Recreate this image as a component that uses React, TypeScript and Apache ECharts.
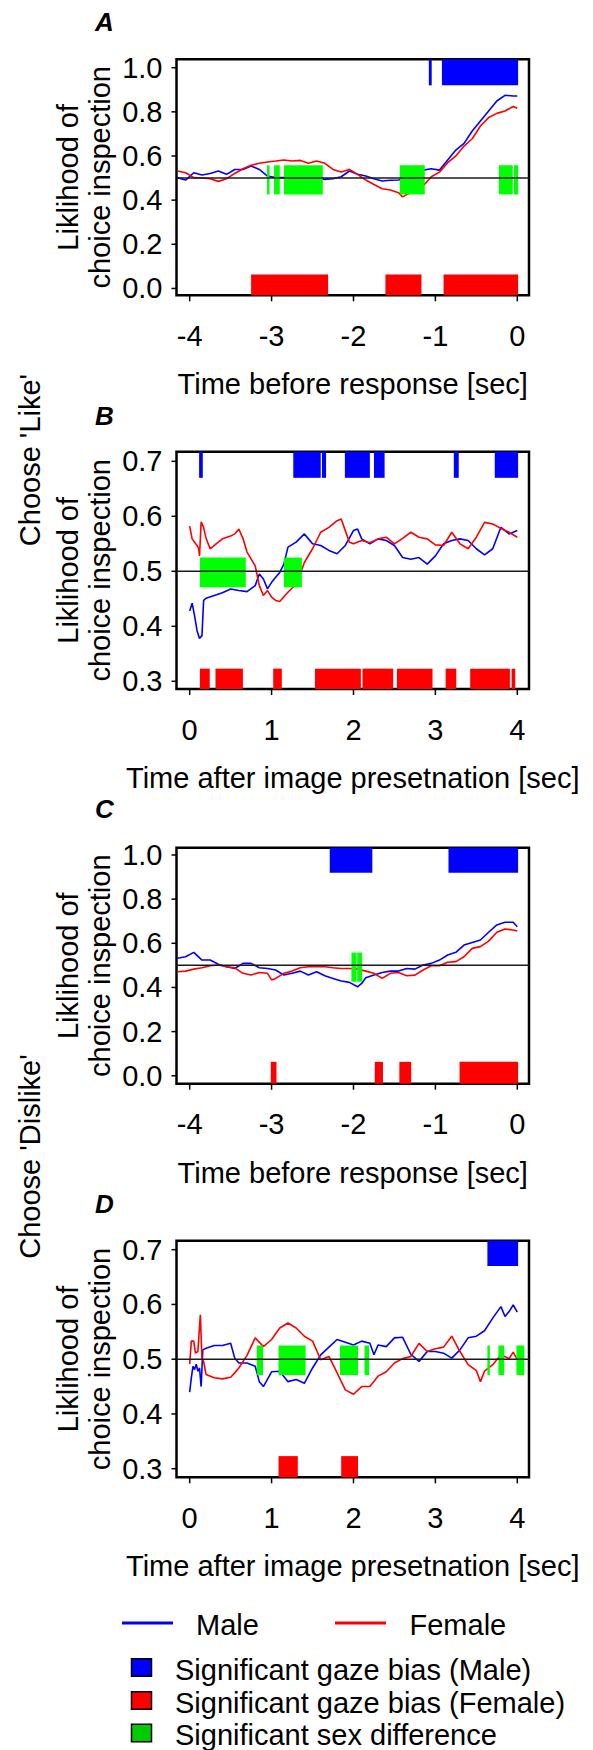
import React, { useEffect, useRef } from "react";
import * as echarts from "echarts";

const FONT = "'Liberation Sans', Arial, Helvetica, sans-serif";

// ---------- tick labels ----------
const X_TICKS_BEFORE = [-4, -3, -2, -1, 0];
const X_TICKS_AFTER = [0, 1, 2, 3, 4];
const Y_TICKS_FULL = [0, 0.2, 0.4, 0.6, 0.8, 1.0];
const Y_TICKS_ZOOM = [0.3, 0.4, 0.5, 0.6, 0.7];
const REF_LEVEL = 0.5;

// ---------- Panel A: Choose 'Like', time before response ----------
const aMale = [[-4.15,0.502],[-4.05,0.491],[-3.95,0.524],[-3.85,0.514],[-3.75,0.521],[-3.65,0.532],[-3.55,0.517],[-3.45,0.539],[-3.35,0.539],[-3.25,0.555],[-3.15,0.539],[-3.05,0.509],[-2.95,0.502],[-2.85,0.502],[-2.75,0.503],[-2.65,0.502],[-2.55,0.497],[-2.45,0.5],[-2.35,0.494],[-2.25,0.497],[-2.15,0.506],[-2.05,0.532],[-1.95,0.517],[-1.85,0.509],[-1.75,0.497],[-1.65,0.487],[-1.55,0.49],[-1.45,0.491],[-1.35,0.5],[-1.25,0.517],[-1.15,0.536],[-1.05,0.542],[-0.95,0.536],[-0.85,0.582],[-0.75,0.627],[-0.65,0.657],[-0.55,0.713],[-0.45,0.759],[-0.35,0.804],[-0.25,0.849],[-0.15,0.875],[-0.05,0.872],[0,0.872]];
const aFemale = [[-4.15,0.532],[-4.05,0.524],[-3.95,0.502],[-3.85,0.5],[-3.75,0.497],[-3.65,0.485],[-3.55,0.497],[-3.45,0.521],[-3.35,0.542],[-3.25,0.558],[-3.15,0.567],[-3.05,0.573],[-2.95,0.577],[-2.85,0.582],[-2.75,0.577],[-2.65,0.58],[-2.55,0.567],[-2.45,0.577],[-2.35,0.567],[-2.25,0.539],[-2.15,0.527],[-2.05,0.539],[-1.95,0.517],[-1.85,0.491],[-1.75,0.471],[-1.65,0.452],[-1.55,0.446],[-1.45,0.434],[-1.4,0.415],[-1.35,0.425],[-1.25,0.441],[-1.15,0.464],[-1.05,0.506],[-0.95,0.527],[-0.85,0.57],[-0.75,0.6],[-0.65,0.645],[-0.55,0.678],[-0.45,0.736],[-0.35,0.774],[-0.25,0.793],[-0.15,0.804],[-0.05,0.824],[0,0.816]];
const aMaleSig = [[-1.08,-1.045],[-0.92,0.01]];
const aFemaleSig = [[-3.25,-2.31],[-1.61,-1.17],[-0.9,0.01]];
const aDiffSig = [[-3.055,-3.025],[-2.97,-2.9],[-2.85,-2.375],[-1.435,-1.13],[-0.225,-0.055],[-0.04,0.01]];

// ---------- Panel B: Choose 'Like', time after image presentation ----------
const bMale = [[0,0.428],[0.03,0.442],[0.06,0.419],[0.09,0.392],[0.12,0.378],[0.15,0.383],[0.17,0.447],[0.2,0.451],[0.3,0.456],[0.4,0.461],[0.5,0.468],[0.6,0.465],[0.7,0.463],[0.8,0.474],[0.85,0.495],[0.9,0.486],[0.95,0.468],[1.0,0.48],[1.05,0.489],[1.1,0.498],[1.15,0.513],[1.2,0.544],[1.3,0.553],[1.4,0.568],[1.45,0.559],[1.5,0.55],[1.6,0.547],[1.7,0.538],[1.8,0.532],[1.9,0.547],[2.0,0.574],[2.05,0.577],[2.1,0.559],[2.2,0.55],[2.3,0.559],[2.4,0.556],[2.5,0.547],[2.6,0.525],[2.7,0.522],[2.8,0.525],[2.9,0.513],[3.0,0.528],[3.1,0.55],[3.2,0.556],[3.3,0.559],[3.4,0.556],[3.5,0.541],[3.6,0.53],[3.7,0.541],[3.8,0.58],[3.9,0.568],[4.0,0.574]];
const bFemale = [[0,0.582],[0.03,0.559],[0.06,0.553],[0.09,0.547],[0.11,0.541],[0.12,0.528],[0.14,0.59],[0.17,0.58],[0.2,0.56],[0.25,0.541],[0.3,0.547],[0.4,0.559],[0.5,0.564],[0.55,0.568],[0.6,0.577],[0.65,0.56],[0.7,0.535],[0.8,0.51],[0.85,0.474],[0.9,0.456],[0.95,0.465],[1.0,0.453],[1.05,0.447],[1.1,0.445],[1.2,0.462],[1.3,0.477],[1.35,0.495],[1.4,0.516],[1.5,0.541],[1.6,0.571],[1.7,0.58],[1.8,0.592],[1.85,0.595],[1.9,0.574],[1.95,0.553],[2.0,0.55],[2.1,0.556],[2.2,0.552],[2.3,0.559],[2.4,0.562],[2.5,0.55],[2.6,0.56],[2.7,0.571],[2.8,0.562],[2.9,0.559],[3.0,0.548],[3.1,0.547],[3.2,0.571],[3.3,0.55],[3.4,0.541],[3.5,0.562],[3.6,0.589],[3.7,0.586],[3.8,0.578],[3.9,0.571],[4.0,0.562]];
const bMaleSig = [[0.115,0.16],[1.265,1.6],[1.615,1.665],[1.895,2.2],[2.25,2.38],[3.225,3.285],[3.725,4.01]];
const bFemaleSig = [[0.125,0.245],[0.315,0.65],[1.02,1.125],[1.53,2.09],[2.11,2.485],[2.53,2.965],[3.125,3.255],[3.425,3.91],[3.93,3.975]];
const bDiffSig = [[0.125,0.685],[1.15,1.37]];

// ---------- Panel C: Choose 'Dislike', time before response ----------
const cMale = [[-4.15,0.532],[-4.05,0.539],[-3.95,0.559],[-3.85,0.524],[-3.75,0.524],[-3.65,0.505],[-3.55,0.494],[-3.45,0.486],[-3.35,0.509],[-3.25,0.509],[-3.15,0.489],[-3.05,0.486],[-2.95,0.479],[-2.85,0.456],[-2.75,0.464],[-2.65,0.474],[-2.55,0.456],[-2.45,0.471],[-2.35,0.453],[-2.25,0.441],[-2.15,0.429],[-2.05,0.423],[-1.95,0.403],[-1.9,0.418],[-1.85,0.444],[-1.75,0.456],[-1.65,0.468],[-1.55,0.474],[-1.45,0.474],[-1.35,0.486],[-1.25,0.483],[-1.15,0.502],[-1.05,0.509],[-0.95,0.524],[-0.85,0.547],[-0.75,0.559],[-0.65,0.592],[-0.55,0.604],[-0.45,0.615],[-0.35,0.65],[-0.25,0.683],[-0.15,0.695],[-0.05,0.695],[0,0.675]];
const cFemale = [[-4.15,0.471],[-4.05,0.474],[-3.95,0.483],[-3.85,0.489],[-3.75,0.498],[-3.65,0.502],[-3.55,0.494],[-3.45,0.489],[-3.35,0.464],[-3.25,0.456],[-3.15,0.468],[-3.05,0.464],[-3.0,0.434],[-2.95,0.441],[-2.85,0.464],[-2.75,0.474],[-2.65,0.489],[-2.55,0.494],[-2.45,0.494],[-2.35,0.494],[-2.25,0.489],[-2.15,0.486],[-2.05,0.486],[-1.95,0.483],[-1.85,0.474],[-1.75,0.464],[-1.65,0.441],[-1.55,0.464],[-1.45,0.468],[-1.35,0.453],[-1.25,0.456],[-1.15,0.479],[-1.05,0.498],[-0.95,0.498],[-0.85,0.514],[-0.75,0.517],[-0.65,0.539],[-0.55,0.577],[-0.45,0.585],[-0.35,0.61],[-0.25,0.65],[-0.15,0.665],[-0.05,0.66],[0,0.656]];
const cMaleSig = [[-2.29,-1.77],[-0.84,0.01]];
const cFemaleSig = [[-3.01,-2.94],[-1.74,-1.64],[-1.44,-1.295],[-0.705,0.01]];
const cDiffSig = [[-2.025,-1.965],[-1.955,-1.895]];

// ---------- Panel D: Choose 'Dislike', time after image presentation ----------
const dMale = [[0,0.44],[0.02,0.466],[0.04,0.487],[0.06,0.481],[0.08,0.491],[0.1,0.478],[0.12,0.484],[0.14,0.45],[0.16,0.517],[0.2,0.52],[0.3,0.525],[0.4,0.525],[0.5,0.529],[0.55,0.502],[0.6,0.493],[0.7,0.493],[0.8,0.487],[0.85,0.459],[0.9,0.45],[1.0,0.477],[1.1,0.478],[1.2,0.459],[1.3,0.463],[1.4,0.456],[1.5,0.484],[1.6,0.508],[1.7,0.522],[1.8,0.536],[1.9,0.531],[2.0,0.526],[2.1,0.533],[2.2,0.529],[2.25,0.508],[2.3,0.526],[2.4,0.523],[2.5,0.539],[2.6,0.54],[2.7,0.509],[2.8,0.496],[2.9,0.514],[3.0,0.514],[3.1,0.511],[3.2,0.502],[3.3,0.517],[3.4,0.539],[3.5,0.542],[3.6,0.552],[3.7,0.575],[3.8,0.596],[3.85,0.578],[3.9,0.587],[3.95,0.599],[4.0,0.586]];
const dFemale = [[0,0.491],[0.02,0.533],[0.05,0.533],[0.07,0.511],[0.1,0.514],[0.13,0.581],[0.15,0.502],[0.17,0.496],[0.2,0.472],[0.3,0.466],[0.4,0.464],[0.5,0.467],[0.55,0.475],[0.6,0.484],[0.7,0.507],[0.8,0.539],[0.9,0.523],[1.0,0.536],[1.1,0.557],[1.2,0.566],[1.3,0.557],[1.4,0.542],[1.5,0.533],[1.6,0.499],[1.7,0.505],[1.8,0.475],[1.9,0.444],[2.0,0.436],[2.1,0.45],[2.2,0.45],[2.3,0.469],[2.4,0.477],[2.5,0.493],[2.6,0.501],[2.7,0.505],[2.8,0.529],[2.9,0.514],[3.0,0.519],[3.1,0.522],[3.2,0.542],[3.3,0.514],[3.4,0.49],[3.5,0.479],[3.55,0.459],[3.6,0.478],[3.7,0.49],[3.8,0.508],[3.9,0.501],[3.95,0.513],[4.0,0.499]];
const dMaleSig = [[3.635,4.01]];
const dFemaleSig = [[1.085,1.32],[1.85,2.055]];
const dDiffSig = [[0.82,0.895],[1.085,1.415],[1.835,2.055],[2.135,2.19],[3.635,3.665],[3.77,3.84],[3.99,4.085]];

// vertical extents of the significance bands (data units)
const fullBands = { male: [0.92, 1.1], female: [-0.1, 0.063], diff: [0.426, 0.558] };
const zoomBands = { male: [0.67, 0.75], female: [0.25, 0.323], diff: [0.471, 0.525] };

const BLUE = "#0000ff";
const RED = "#ff0000";
const GREEN = "#00ff00";

const GRID_LEFT = 176.5;
const GRID_WIDTH = 352.5;

const panels = [
  { letter: "A", top: 59.3, height: 236, xMin: -4.161, xMax: 0.143, yMin: -0.031, yMax: 1.038, xTicks: X_TICKS_BEFORE, yTicks: Y_TICKS_FULL, male: aMale, female: aFemale, maleSig: aMaleSig, femaleSig: aFemaleSig, diffSig: aDiffSig, bands: fullBands, xName: "Time before response [sec]", letterY: 22 },
  { letter: "B", top: 451.7, height: 237.3, xMin: -0.161, xMax: 4.143, yMin: 0.286, yMax: 0.7175, xTicks: X_TICKS_AFTER, yTicks: Y_TICKS_ZOOM, male: bMale, female: bFemale, maleSig: bMaleSig, femaleSig: bFemaleSig, diffSig: bDiffSig, bands: zoomBands, xName: "Time after image presetnation [sec]", letterY: 416 },
  { letter: "C", top: 847.7, height: 236, xMin: -4.161, xMax: 0.143, yMin: -0.036, yMax: 1.033, xTicks: X_TICKS_BEFORE, yTicks: Y_TICKS_FULL, male: cMale, female: cFemale, maleSig: cMaleSig, femaleSig: cFemaleSig, diffSig: cDiffSig, bands: fullBands, xName: "Time before response [sec]", letterY: 809 },
  { letter: "D", top: 1240.7, height: 236.6, xMin: -0.161, xMax: 4.143, yMin: 0.2843, yMax: 0.7164, xTicks: X_TICKS_AFTER, yTicks: Y_TICKS_ZOOM, male: dMale, female: dFemale, maleSig: dMaleSig, femaleSig: dFemaleSig, diffSig: dDiffSig, bands: zoomBands, xName: "Time after image presetnation [sec]", letterY: 1203.5 },
];

function sigSeries(idx: number, intervals: number[][], band: number[], color: string, z: number) {
  return {
    type: "custom",
    xAxisIndex: idx,
    yAxisIndex: idx,
    z,
    silent: true,
    data: intervals.map(([a, b]) => [a, b, band[0], band[1]]),
    encode: { x: [0, 1], y: [2, 3] },
    renderItem: (params: any, api: any) => {
      const p0 = api.coord([api.value(0), api.value(3)]);
      const p1 = api.coord([api.value(1), api.value(2)]);
      const cs = params.coordSys;
      const r = echarts.graphic.clipRectByRect(
        { x: p0[0], y: p0[1], width: p1[0] - p0[0], height: p1[1] - p0[1] },
        { x: cs.x, y: cs.y, width: cs.width, height: cs.height }
      );
      if (!r) return null;
      return { type: "rect", shape: r, style: { fill: color } };
    },
  };
}

// tick marks drawn through the axes' own scales
function xTickSeries(idx: number, ticks: number[], yMin: number) {
  return {
    type: "custom",
    xAxisIndex: idx,
    yAxisIndex: idx,
    z: 6,
    silent: true,
    clip: false,
    data: ticks.map((t) => [t, yMin]),
    encode: { x: 0, y: 1 },
    renderItem: (params: any, api: any) => {
      const pt = api.coord([api.value(0), api.value(1)]);
      return { type: "line", shape: { x1: pt[0], y1: pt[1], x2: pt[0], y2: pt[1] + 6 }, style: { stroke: "#000", lineWidth: 1.5 } };
    },
  };
}
function yTickSeries(idx: number, ticks: number[], xMin: number) {
  return {
    type: "custom",
    xAxisIndex: idx,
    yAxisIndex: idx,
    z: 6,
    silent: true,
    clip: false,
    data: ticks.map((v) => [xMin, v]),
    encode: { x: 0, y: 1 },
    renderItem: (params: any, api: any) => {
      const pt = api.coord([api.value(0), api.value(1)]);
      return { type: "line", shape: { x1: pt[0] - 5, y1: pt[1], x2: pt[0], y2: pt[1] }, style: { stroke: "#000", lineWidth: 1.5 } };
    },
  };
}

function txt(text: string, x: number, y: number, opts: any = {}) {
  const align = opts.align || "center";
  return {
    type: "text",
    x,
    y,
    rotation: opts.rotation || 0,
    silent: true,
    style: {
      text,
      fill: "#000",
      fontSize: opts.fontSize || 29,
      fontFamily: FONT,
      fontWeight: opts.fontWeight || "normal",
      fontStyle: opts.fontStyle || "normal",
      align,
      textAlign: align,
      verticalAlign: "middle",
      textVerticalAlign: "middle",
    },
  };
}

function buildOption() {
  const grid: any[] = [];
  const xAxis: any[] = [];
  const yAxis: any[] = [];
  const series: any[] = [];
  const graphic: any[] = [];

  panels.forEach((p, i) => {
    grid.push({
      left: GRID_LEFT,
      width: GRID_WIDTH,
      top: p.top,
      height: p.height,
      show: true,
      borderColor: "#000",
      borderWidth: 2.5,
      backgroundColor: "transparent",
    });
    xAxis.push({
      type: "value",
      gridIndex: i,
      min: p.xMin,
      max: p.xMax,
      axisLine: { show: false, onZero: false },
      splitLine: { show: false },
      axisTick: { show: false },
      axisLabel: { customValues: p.xTicks, margin: 26, fontSize: 29, fontFamily: FONT, color: "#000", formatter: (v: number) => String(v) },
    });
    yAxis.push({
      type: "value",
      gridIndex: i,
      min: p.yMin,
      max: p.yMax,
      axisLine: { show: false, onZero: false },
      splitLine: { show: false },
      axisTick: { show: false },
      axisLabel: { customValues: p.yTicks, margin: 14, fontSize: 29, fontFamily: FONT, color: "#000", formatter: (v: number) => v.toFixed(1) },
    });

    series.push({
      type: "line", xAxisIndex: i, yAxisIndex: i, data: p.male, showSymbol: false, symbol: "none", z: 2,
      lineStyle: { color: BLUE, width: 1.6 }, itemStyle: { color: BLUE }, silent: true,
    });
    series.push({
      type: "line", xAxisIndex: i, yAxisIndex: i, data: p.female, showSymbol: false, symbol: "none", z: 2,
      lineStyle: { color: RED, width: 1.6 }, itemStyle: { color: RED }, silent: true,
    });
    series.push(sigSeries(i, p.maleSig, p.bands.male, BLUE, 3));
    series.push(sigSeries(i, p.femaleSig, p.bands.female, RED, 3));
    series.push(sigSeries(i, p.diffSig, p.bands.diff, GREEN, 3));
    series.push({
      type: "line", xAxisIndex: i, yAxisIndex: i, z: 4, silent: true,
      data: [[p.xMin, REF_LEVEL], [p.xMax, REF_LEVEL]],
      showSymbol: false, symbol: "none",
      lineStyle: { color: "#1a1a1a", width: 1.5 },
    });
    series.push(xTickSeries(i, p.xTicks, p.yMin));
    series.push(yTickSeries(i, p.yTicks, p.xMin));

    const cy = p.top + p.height / 2;
    const cx = GRID_LEFT + GRID_WIDTH / 2;
    graphic.push(txt(p.letter, 104.5, p.letterY, { fontSize: 26, fontWeight: "bold", fontStyle: "italic" }));
    graphic.push(txt("Liklihood of", 67.5, cy, { rotation: Math.PI / 2 }));
    graphic.push(txt("choice inspection", 99.5, cy, { rotation: Math.PI / 2 }));
    graphic.push(txt(p.xName, cx, p.top + p.height + 89));
  });

  graphic.push(txt("Choose 'Like'", 30, 460, { rotation: Math.PI / 2 }));
  graphic.push(txt("Choose 'Dislike'", 30, 1156.5, { rotation: Math.PI / 2 }));

  // legend
  graphic.push({ type: "line", silent: true, shape: { x1: 122, y1: 1623, x2: 173, y2: 1623 }, style: { stroke: BLUE, lineWidth: 3 } });
  graphic.push(txt("Male", 196, 1625, { align: "left" }));
  graphic.push({ type: "line", silent: true, shape: { x1: 335, y1: 1623, x2: 386, y2: 1623 }, style: { stroke: RED, lineWidth: 3 } });
  graphic.push(txt("Female", 409.5, 1625, { align: "left" }));
  const legendRows = [
    { color: BLUE, label: "Significant gaze bias (Male)", y: 1667.5 },
    { color: RED, label: "Significant gaze bias (Female)", y: 1700.5 },
    { color: "#00cc00", label: "Significant sex difference", y: 1733 },
  ];
  legendRows.forEach((r) => {
    graphic.push({ type: "rect", silent: true, shape: { x: 131.5, y: r.y - 8.75, width: 20, height: 17.5 }, style: { fill: r.color, stroke: "#000", lineWidth: 1.5 } });
    graphic.push(txt(r.label, 175, r.y + 2, { align: "left" }));
  });

  return {
    animation: false,
    backgroundColor: "#fff",
    grid,
    xAxis,
    yAxis,
    series,
    graphic: { elements: graphic },
  };
}

export default function App() {
  const ref = useRef<HTMLDivElement>(null);
  useEffect(() => {
    const chart = echarts.init(ref.current as HTMLDivElement, null, { renderer: "svg" });
    chart.setOption(buildOption() as any);
    return () => chart.dispose();
  }, []);
  return (
    <div
      ref={ref}
      style={{ position: "absolute", left: 0, top: 0, width: 593, height: 1750, background: "#fff" }}
    />
  );
}
